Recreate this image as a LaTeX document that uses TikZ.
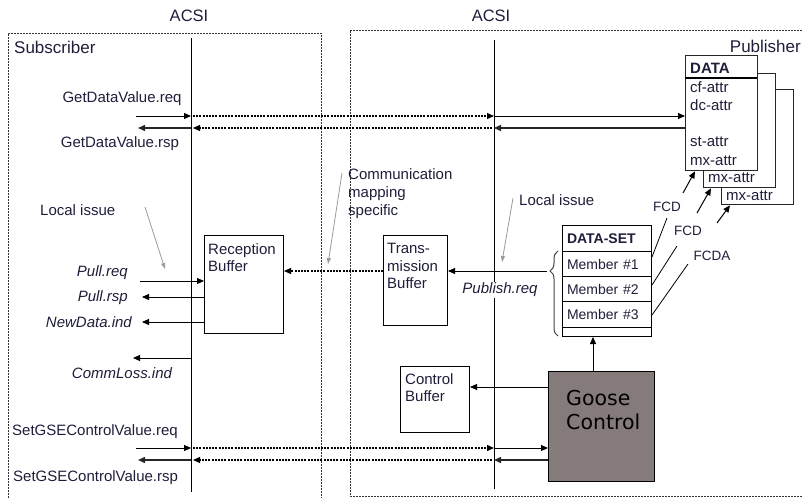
\documentclass[tikz,border=0pt]{standalone}
\usepackage{fontspec}
\setmainfont{Liberation Sans}
\newfontfamily\goosefont{DejaVu Sans}
\usetikzlibrary{arrows.meta,decorations.pathreplacing}
\definecolor{ink}{HTML}{1E1E3A}
\definecolor{goosefill}{HTML}{857B7B}
\definecolor{hint}{HTML}{9A9A9A}

\begin{document}
\begin{tikzpicture}[x=1pt,y=-1pt,
  txt/.style={font=\fontsize{15}{17}\selectfont, text=ink, inner sep=0pt},
  itxt/.style={txt, font=\fontsize{15}{17}\selectfont\itshape},
  small/.style={txt, font=\fontsize{13.5}{15}\selectfont},
  frame/.style={draw=black!80, line width=0.8pt, dash pattern=on 2pt off 1pt},
  acsi/.style={draw, line width=0.9pt},
  tip/.style={-{Triangle[length=7pt,width=6pt]}},
  msg/.style={draw, line width=0.9pt, tip},
  rmsg/.style={draw=black!85, line width=1.4pt, tip},
  dmsg/.style={draw, line width=1.2pt, dash pattern=on 2pt off 1.2pt, tip},
  hintarrow/.style={draw=hint, line width=0.8pt, -{Triangle[length=6pt,width=4pt]}},
  bufbox/.style={draw, line width=1pt, fill=white, inner sep=0pt, anchor=north west},
  databox/.style={draw=black!85, line width=1.3pt, fill=white, inner sep=0pt, anchor=north west},
  dsrow/.style={draw, line width=1pt, inner xsep=4.5pt, inner ysep=0pt, text width=80pt, align=left,
    anchor=north west, text=ink, font=\fontsize{14}{16}\selectfont},
  link/.style={draw, line width=0.8pt}
]
\useasboundingbox (0,0) rectangle (802,498);

% ---- frames of the two sides ----
\draw[frame] (8,498) -- (8,33) -- (321,33) -- (321,498);
\draw[frame] (802,30) -- (350,30) -- (350,496) -- (802,496);

\node[txt, font=\fontsize{16.5}{18}\selectfont] (acsiL) at (189,16) {ACSI};
\node[txt, font=\fontsize{16.5}{18}\selectfont] (acsiR) at (491,16) {ACSI};
\node[txt, font=\fontsize{17}{19}\selectfont, anchor=west] (subL) at (14,47) {Subscriber};
\node[txt, font=\fontsize{17}{19}\selectfont, anchor=east] (pubL) at (801,46) {Publisher};

% ---- ACSI service boundaries ----
\coordinate (sTop) at (191,38);  \coordinate (sBot) at (191,492);
\coordinate (pTop) at (494,40);  \coordinate (pBot) at (494,489);
\draw[acsi] (sTop) -- (sBot);
\draw[acsi] (pTop) -- (pBot);

% ---- DATA object (three stacked instances) ----
\node[databox, minimum width=72pt, minimum height=115pt] (d3) at (721,89) {};
\node[databox, minimum width=72pt, minimum height=114pt] (d2) at (703,73) {};
\node[databox, minimum width=72pt, minimum height=115pt] (d1) at (685,55) {};
\draw[line width=1.3pt] (685,78) -- (757,78);
\node[txt, font=\fontsize{15}{16}\selectfont\bfseries, anchor=west] (dHead) at (690,68) {DATA};
\node[txt, anchor=west] (dCf) at (690,87) {cf-attr};
\node[txt, anchor=west] (dDc) at (690,105.5) {dc-attr};
\node[txt, anchor=west] (dSt) at (690,142) {st-attr};
\node[txt, anchor=west] (dMx) at (690,160.5) {mx-attr};
\node[txt, anchor=west] (dMx2) at (708,178) {mx-attr};
\node[txt, anchor=west] (dMx3) at (726,195.5) {mx-attr};

% ---- DATA-SET ----
\node[dsrow, minimum height=26pt, font=\fontsize{14}{16}\selectfont\bfseries] (dsHead) at (562,225) {DATA-SET};
\node[dsrow, minimum height=25pt] (m1) at (562,251) {Member \#1};
\node[dsrow, minimum height=25pt] (m2) at (562,276) {Member \#2};
\node[dsrow, minimum height=26pt] (m3) at (562,301) {Member \#3};
\node[dsrow, minimum height=9pt] (dsEnd) at (562,327) {};

% ---- buffers ----
\node[bufbox, minimum width=79pt, minimum height=98pt] (rb) at (204,235) {};
\node[txt, anchor=north west, align=left, font=\fontsize{15}{17}\selectfont] (rbT) at (208,243) {Reception\\Buffer};
\node[bufbox, minimum width=64pt, minimum height=90pt] (tb) at (383,235) {};
\node[txt, anchor=north west, align=left, font=\fontsize{15}{17.5}\selectfont] (tbT) at (387,243) {Trans-\\mission\\Buffer};
\node[bufbox, minimum width=69pt, minimum height=66pt] (cb) at (400,366) {};
\node[txt, anchor=north west, align=left, font=\fontsize{15}{17}\selectfont] (cbT) at (405,373) {Control\\Buffer};

% ---- Goose control ----
\node[bufbox, fill=goosefill, minimum width=106pt, minimum height=110pt] (gc) at (548,371) {};
\node[anchor=north west, align=left, inner sep=0pt, font=\goosefont\fontsize{20.5}{24}\selectfont] (gcT) at (566,390) {Goose\\Control};

% ---- GetDataValue ----
\coordinate (gq0) at (136,116); \coordinate (gq1) at (191,116);
\coordinate (gq2) at (193,116); \coordinate (gq3) at (494,116);
\draw[msg] (gq0) -- (gq1);
\draw[dmsg] (gq2) -- (gq3);
\draw[msg] (gq3) -- (d1.west |- gq3);
\coordinate (gp0) at (138,128); \coordinate (gp1) at (191,128);
\coordinate (gp2) at (193,128); \coordinate (gp3) at (494,128);
\draw[rmsg] (d1.west |- gp3) -- (gp3);
\draw[dmsg] (492,128) -- (gp2);
\draw[rmsg] (gp1) -- (gp0);
\node[txt] (gqL) at (122,99) {GetDataValue.req};
\node[txt] (gpL) at (120,144) {GetDataValue.rsp};

% ---- reception side services ----
\coordinate (prq) at (140,281);
\coordinate (prs) at (142,297);
\coordinate (ndi) at (142,322);
\coordinate (clA) at (191,358); \coordinate (clB) at (133,358);
\draw[msg] (prq) -- (rb.west |- prq);
\draw[msg] (rb.west |- prs) -- (prs);
\draw[msg] (rb.west |- ndi) -- (ndi);
\draw[msg] (clA) -- (clB);
\node[itxt, anchor=east] (prqL) at (128,273) {Pull.req};
\node[itxt, anchor=east] (prsL) at (128,298) {Pull.rsp};
\node[itxt, anchor=east] (ndiL) at (132,322) {NewData.ind};
\node[itxt] (clL) at (122,373) {CommLoss.ind};

% ---- transmission ----
\draw[dmsg] (tb.west |- 0,271) -- (rb.east |- 0,271);
\draw[line width=1pt, draw=black!75, decorate,
  decoration={brace, amplitude=8pt, aspect=0.765}] (558,336) -- (558,251);
\coordinate (brTip) at (547,271);
\draw[msg] (brTip) -- (tb.east |- brTip);
\node[itxt, fill=white, inner sep=1.5pt] (pubReq) at (500,290) {Publish.req};

% ---- Goose control links ----
\draw[msg] (gc.north -| 593,0) -- (dsEnd.south -| 593,0);
\draw[msg] (gc.west |- 0,387) -- (cb.east |- 0,387);

% ---- SetGSEControlValue ----
\coordinate (sq0) at (136,448); \coordinate (sq1) at (191,448);
\coordinate (sq2) at (193,448); \coordinate (sq3) at (494,448);
\draw[msg] (sq0) -- (sq1);
\draw[dmsg] (sq2) -- (sq3);
\draw[msg] (sq3) -- (gc.west |- sq3);
\coordinate (sp0) at (138,460); \coordinate (sp1) at (191,460);
\coordinate (sp2) at (193,460); \coordinate (sp3) at (494,460);
\draw[rmsg] (gc.west |- sp3) -- (sp3);
\draw[dmsg] (492,460) -- (sp2);
\draw[rmsg] (sp1) -- (sp0);
\node[txt, anchor=west] (sqL) at (12,432) {SetGSEControlValue.req};
\node[txt, anchor=west] (spL) at (13,478) {SetGSEControlValue.rsp};

% ---- FCD / FCDA references ----
\draw[msg, line width=1pt] (683,193) -- (d1.south -| 695,0);
\draw[msg, line width=1pt] (697,213) -- (d2.south -| 711,0);
\draw[msg, line width=1pt] (717,223) -- (d3.south -| 730,0);
\node[small] (fcd1) at (667,207) {FCD};
\node[small] (fcd2) at (688,231) {FCD};
\node[small] (fcda) at (712,256) {FCDA};
\draw[link] (m1.east |- 0,257) -- (667,218);
\draw[link] (m2.east |- 0,285) -- (677,246);
\draw[link] (m3.east |- 0,315) -- (688,264);

% ---- annotations ----
\node[txt, anchor=west] (liL) at (40,210) {Local issue};
\node[txt, anchor=west] (liR) at (519,200) {Local issue};
\node[txt, anchor=north west, align=left, font=\fontsize{15}{18}\selectfont] (cms) at (348,168) {Communication\\mapping\\specific};
\coordinate (liLa) at (145,207); \coordinate (liLb) at (165,269);
\coordinate (cmsa) at (342,173); \coordinate (cmsb) at (328,264);
\coordinate (liRa) at (513,198); \coordinate (liRb) at (502,262);
\draw[hintarrow] (liLa) -- (liLb);
\draw[hintarrow] (cmsa) -- (cmsb);
\draw[hintarrow] (liRa) -- (liRb);
\end{tikzpicture}
\end{document}
